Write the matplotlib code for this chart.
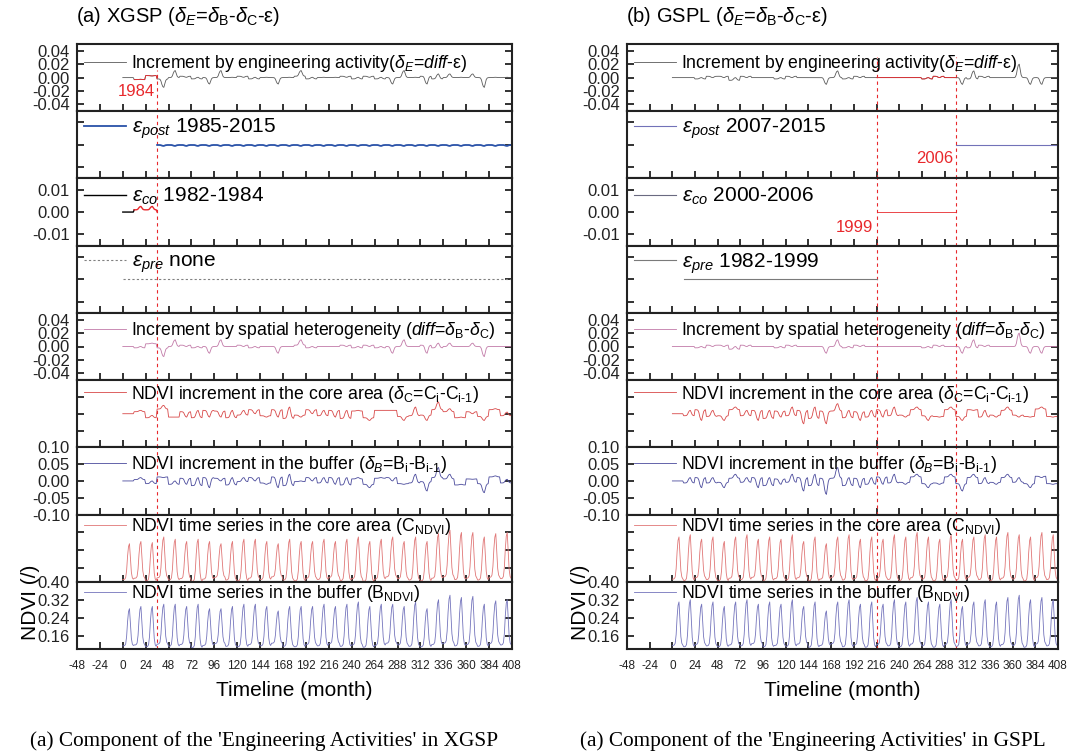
import numpy as np
import matplotlib
matplotlib.use("Agg")
import matplotlib.pyplot as plt
from matplotlib.lines import Line2D
from matplotlib.ticker import FixedLocator, StrMethodFormatter, NullFormatter

plt.rcParams['font.family'] = ['Liberation Sans', 'DejaVu Sans']
plt.rcParams['mathtext.fontset'] = 'custom'
plt.rcParams['mathtext.rm'] = 'Liberation Sans'
plt.rcParams['mathtext.it'] = 'Liberation Sans:italic'
plt.rcParams['mathtext.bf'] = 'Liberation Sans:bold'
plt.rcParams['axes.unicode_minus'] = False

# monthly NDVI 1982-2015: one summer peak per year
years = list(range(1982, 2016))
season_shape = [0.0, 0.0, 0.01, 0.05, 0.25, 0.65, 0.92, 1.0, 0.6, 0.2, 0.05, 0.01]

xgsp_core_peak = [0.27, 0.28, 0.275, 0.30, 0.29, 0.28, 0.29, 0.28, 0.27, 0.28, 0.29, 0.29,
                  0.28, 0.27, 0.29, 0.28, 0.28, 0.29, 0.28, 0.29, 0.30, 0.28, 0.29, 0.30,
                  0.28, 0.30, 0.28, 0.315, 0.33, 0.32, 0.32, 0.30, 0.315, 0.32]
xgsp_buffer_peak = [0.28, 0.29, 0.29, 0.30, 0.30, 0.29, 0.30, 0.28, 0.28, 0.29, 0.30, 0.30,
                    0.29, 0.27, 0.29, 0.29, 0.29, 0.30, 0.29, 0.30, 0.31, 0.29, 0.30, 0.30,
                    0.29, 0.31, 0.28, 0.32, 0.34, 0.33, 0.335, 0.30, 0.315, 0.32]
xgsp_core_trough = [0.110, 0.116, 0.104, 0.118, 0.108, 0.114, 0.102, 0.112, 0.120, 0.108, 0.104, 0.116,
                    0.110, 0.122, 0.108, 0.104, 0.116, 0.110, 0.120, 0.106, 0.114, 0.102, 0.112, 0.122,
                    0.114, 0.108, 0.104, 0.116, 0.122, 0.110, 0.116, 0.108, 0.120, 0.114]
xgsp_buffer_trough = [0.114, 0.118, 0.110, 0.122, 0.112, 0.120, 0.106, 0.116, 0.124, 0.112, 0.110, 0.120,
                      0.114, 0.126, 0.112, 0.110, 0.120, 0.114, 0.124, 0.112, 0.118, 0.108, 0.116, 0.126,
                      0.118, 0.112, 0.110, 0.120, 0.126, 0.114, 0.120, 0.112, 0.124, 0.118]

gspl_core_peak = [0.30, 0.31, 0.29, 0.30, 0.28, 0.30, 0.31, 0.29, 0.30, 0.29, 0.31, 0.28,
                  0.30, 0.27, 0.30, 0.31, 0.29, 0.30, 0.29, 0.31, 0.30, 0.32, 0.30, 0.29,
                  0.31, 0.29, 0.30, 0.31, 0.30, 0.32, 0.31, 0.30, 0.32, 0.31]
gspl_buffer_peak = [0.31, 0.32, 0.30, 0.31, 0.29, 0.31, 0.32, 0.30, 0.31, 0.30, 0.32, 0.29,
                    0.31, 0.27, 0.31, 0.32, 0.30, 0.31, 0.30, 0.32, 0.31, 0.33, 0.31, 0.30,
                    0.32, 0.29, 0.31, 0.32, 0.31, 0.33, 0.34, 0.32, 0.33, 0.32]
gspl_core_trough = [0.112, 0.106, 0.118, 0.110, 0.104, 0.116, 0.110, 0.120, 0.106, 0.114, 0.108, 0.118,
                    0.104, 0.112, 0.120, 0.108, 0.114, 0.104, 0.116, 0.110, 0.106, 0.118, 0.112, 0.104,
                    0.116, 0.108, 0.120, 0.110, 0.106, 0.116, 0.112, 0.104, 0.118, 0.110]
gspl_buffer_trough = [0.116, 0.110, 0.120, 0.114, 0.110, 0.118, 0.114, 0.124, 0.110, 0.116, 0.112, 0.122,
                      0.108, 0.116, 0.124, 0.110, 0.118, 0.108, 0.120, 0.114, 0.110, 0.122, 0.114, 0.108,
                      0.120, 0.112, 0.122, 0.114, 0.110, 0.120, 0.116, 0.108, 0.122, 0.114]

# epsilon periods, months since Jan 1982
xgsp_periods = {"pre": None, "co": (0, 36), "post": (36, 408)}
gspl_periods = {"pre": (0, 216), "co": (216, 300), "post": (300, 408)}
xgsp_period_text = {"pre": "none", "co": "1982-1984", "post": "1985-2015"}
gspl_period_text = {"pre": "1982-1999", "co": "2000-2006", "post": "2007-2015"}
month_ticks = list(range(-48, 409, 24))

RED = '#e8282c'
W, H = 1069, 752


def ndvi_series(peaks, troughs):
    out = []
    for p, t in zip(peaks, troughs):
        for s in season_shape:
            out.append(t + (p - t) * s)
    return np.array(out)


def increment(series):
    d = np.zeros_like(series)
    d[12:] = series[12:] - series[:-12]
    return d


def epsilon(diff, period):
    e = np.zeros(len(diff))
    if period is None:
        return e
    idx = np.arange(max(period[0], 12), period[1])
    for m in range(12):
        sel = idx[idx % 12 == m]
        if len(sel):
            e[sel] = diff[sel].mean()
    return e


row_ylims = [(-0.05, 0.05), (-0.015, 0.015), (-0.015, 0.015), (-0.015, 0.015), (-0.05, 0.05),
             (-0.1, 0.1), (-0.1, 0.1), (0.1, 0.4), (0.1, 0.4)]
row_ticks = [[-0.04, -0.02, 0, 0.02, 0.04], [-0.01, 0, 0.01], [-0.01, 0, 0.01], [-0.01, 0, 0.01],
             [-0.04, -0.02, 0, 0.02, 0.04], [-0.05, 0, 0.05], [-0.1, -0.05, 0, 0.05, 0.1],
             [0.16, 0.24, 0.32], [0.16, 0.24, 0.32, 0.40]]
row_labeled = [True, False, True, False, True, False, True, False, True]
row_leg_off = [20, 18, 18, 18, 18, 14, 17, 12, 12]

fig = plt.figure(figsize=(W / 100, H / 100), dpi=100)


def site_panel(x0, x1, core_peak, buffer_peak, core_trough, buffer_trough,
               periods, ptext, breaks, vtop, title, caption):
    C = ndvi_series(core_peak, core_trough)
    B = ndvi_series(buffer_peak, buffer_trough)
    dC = increment(C)
    dB = increment(B)
    diff = dB - dC
    e_pre = epsilon(diff, periods["pre"])
    e_co = epsilon(diff, periods["co"])
    e_post = epsilon(diff, periods["post"])
    dE = diff - e_pre - e_co - e_post
    x = np.arange(len(C))

    top, bottom = 44, 649
    rh = (bottom - top) / 9
    axes = []
    for r in range(9):
        ax = fig.add_axes([x0 / W, 1 - (top + (r + 1) * rh) / H, (x1 - x0) / W, rh / H])
        ax.set_xlim(-48, 408)
        ax.set_ylim(*row_ylims[r])
        ax.yaxis.set_major_locator(FixedLocator(row_ticks[r]))
        if row_labeled[r]:
            ax.yaxis.set_major_formatter(StrMethodFormatter('{x:.2f}'))
        else:
            ax.yaxis.set_major_formatter(NullFormatter())
        ax.xaxis.set_major_locator(FixedLocator(month_ticks))
        if r < 8:
            ax.xaxis.set_major_formatter(NullFormatter())
        ax.tick_params(axis='y', direction='in', length=5, width=1.3, left=True, right=True,
                       labelsize=12, pad=5, colors='#222222')
        ax.tick_params(axis='x', direction='in', length=5, width=1.3, top=False,
                       labelsize=8.5, pad=8, colors='#222222')
        for s in ax.spines.values():
            s.set_linewidth(1.5)
            s.set_color('#222222')
        for b in breaks:
            ax.axvline(b, color=RED, ls=(0, (3, 3)), lw=0.8, ymax=vtop if r == 0 else 1)
        axes.append(ax)

    def leg(ax, r, handle, label, fs):
        ax.legend([handle], [label], loc='center left',
                  bbox_to_anchor=(7 / (x1 - x0), 1 - row_leg_off[r] / rh),
                  frameon=False, fontsize=fs, borderpad=0, borderaxespad=0,
                  handlelength=42 / (fs * 1.389), handletextpad=0.3)

    gray = '#5a5a5a'
    # row 0: engineering increment
    ax = axes[0]
    h, = ax.plot(x, dE, color=gray, lw=0.6)
    seg = (12, 36) if periods["pre"] is None else periods["co"]
    ax.plot(x[seg[0]:seg[1] + 1], dE[seg[0]:seg[1] + 1], color=RED, lw=0.6)
    leg(ax, 0, h, r'Increment by engineering activity($\delta_E$=$diff$-ε)', 12.7)

    # row 1: epsilon post
    ax = axes[1]
    p0, p1 = periods["post"]
    if periods["pre"] is None:
        h, = ax.plot(x[p0:p1], e_post[p0:p1], color='#2a52a8', lw=1.3)
    else:
        h, = ax.plot(x[p0:p1], e_post[p0:p1], color='#7272b8', lw=0.8)
        ax.text(p0 - 3, -0.0062, str(years[p0 // 12 - 1]), color=RED, fontsize=12,
                ha='right', va='center')
    leg(ax, 1, h, r'$\varepsilon_{post}$ ' + ptext["post"], 15)

    # row 2: epsilon co
    ax = axes[2]
    c0, c1 = periods["co"]
    if periods["pre"] is None:
        h, = ax.plot(x[0:13], e_co[0:13], color='black', lw=1.0)
        ax.plot(x[12:c1 + 1], e_co[12:c1 + 1], color=RED, lw=1.0)
    else:
        ax.plot(x[c0:c1 + 1], e_co[c0:c1 + 1], color=RED, lw=0.6)
        h = Line2D([], [], color='#6a6a80', lw=0.8)
        ax.text(c0 - 4, -0.0068, str(years[c0 // 12 - 1]), color=RED, fontsize=12,
                ha='right', va='center')
    leg(ax, 2, h, r'$\varepsilon_{co}$ ' + ptext["co"], 15)

    # row 3: epsilon pre
    ax = axes[3]
    if periods["pre"] is None:
        h, = ax.plot(x, e_pre, color='#808080', lw=0.8, ls=(0, (2, 2)))
    else:
        q0, q1 = periods["pre"]
        h, = ax.plot(x[12:q1 + 1], e_pre[12:q1 + 1], color='#7a7a7a', lw=0.8)
    leg(ax, 3, h, r'$\varepsilon_{pre}$ ' + ptext["pre"], 15)

    # row 4: spatial heterogeneity
    ax = axes[4]
    h, = ax.plot(x, diff, color='#c27aa8', lw=0.6)
    leg(ax, 4, h, r'Increment by spatial heterogeneity ($diff$=$\delta_{\rm B}$-$\delta_{\rm C}$)', 12.7)

    ax = axes[5]
    h, = ax.plot(x, dC, color='#d84848', lw=0.6)
    leg(ax, 5, h, r'NDVI increment in the core area ($\delta_{\rm C}$=C$_{\rm i}$-C$_{\rm i‐1}$)', 12.7)

    ax = axes[6]
    h, = ax.plot(x, dB, color='#4a4a9c', lw=0.6)
    leg(ax, 6, h, r'NDVI increment in the buffer ($\delta_B$=B$_{\rm i}$-B$_{\rm i‐1}$)', 12.7)

    ax = axes[7]
    h, = ax.plot(x, C, color='#e07676', lw=0.6)
    leg(ax, 7, h, r'NDVI time series in the core area (C$_{\rm NDVI}$)', 12.7)

    ax = axes[8]
    h, = ax.plot(x, B, color='#7474bc', lw=0.6)
    leg(ax, 8, h, r'NDVI time series in the buffer (B$_{\rm NDVI}$)', 12.7)

    if periods["pre"] is None:
        axes[0].text(34, -0.021, str(years[2]), color=RED, fontsize=12, ha='right', va='center')

    fig.text((x0 - 1) / W, 1 - 17 / H, title, fontsize=14.5, ha='left', va='center')
    fig.text((x0 + x1) / 2 / W, 1 - 691 / H, 'Timeline (month)', fontsize=15,
             ha='center', va='center')
    fig.text((x0 - 46) / W, 1 - 602 / H, 'NDVI (/)', fontsize=15, rotation=90,
             ha='center', va='center')
    fig.text((x0 + x1) / 2 / W - 30 / W, 1 - 741 / H, caption, fontsize=15.3,
             family='Liberation Serif', ha='center', va='center')


site_panel(77, 512, xgsp_core_peak, xgsp_buffer_peak, xgsp_core_trough, xgsp_buffer_trough,
           xgsp_periods, xgsp_period_text, [36], 0.62,
           r'(a) XGSP ($\delta_E$=$\delta_{\rm B}$-$\delta_{\rm C}$-ε)',
           "(a) Component of the 'Engineering Activities' in XGSP")
site_panel(627, 1058, gspl_core_peak, gspl_buffer_peak, gspl_core_trough, gspl_buffer_trough,
           gspl_periods, gspl_period_text, [216, 300], 0.8,
           r'(b) GSPL ($\delta_E$=$\delta_{\rm B}$-$\delta_{\rm C}$-ε)',
           "(a) Component of the 'Engineering Activities' in GSPL")

fig.savefig('out.png', dpi=100)
